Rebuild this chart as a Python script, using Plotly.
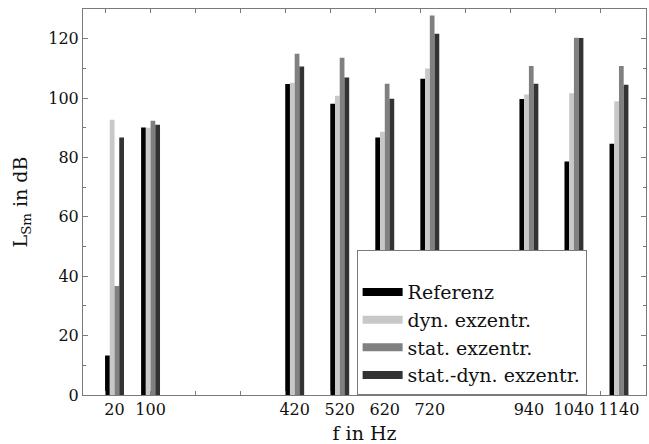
import plotly.graph_objects as go

freqs = [20, 100, 420, 520, 620, 720, 940, 1040, 1140]
freq_labels = ["20", "100", "420", "520", "620", "720", "940", "1040", "1140"]
referenz = [13.3, 90.1, 104.7, 98.1, 86.7, 106.5, 99.7, 78.6, 84.6]
dyn_exz = [92.7, 90.0, 105.2, 100.8, 88.7, 110.0, 101.2, 101.6, 98.9]
stat_exz = [36.7, 92.4, 114.9, 113.6, 104.8, 127.8, 110.8, 120.3, 110.8]
statdyn_exz = [86.7, 91.0, 110.6, 106.9, 99.8, 121.7, 104.8, 120.2, 104.5]

series = [
    ("Referenz", referenz, "#000000"),
    ("dyn. exzentr.", dyn_exz, "#c8c8c8"),
    ("stat. exzentr.", stat_exz, "#808080"),
    ("stat.-dyn. exzentr.", statdyn_exz, "#333333"),
]

FONT = "DejaVu Serif"
fig = go.Figure()
for name, vals, col in series:
    fig.add_trace(go.Bar(x=freqs, y=vals, name=name, marker_color=col,
                         marker_line_width=0, showlegend=False))
for name, vals, col in series:
    fig.add_trace(go.Scatter(x=[None], y=[None], mode="lines", name=name,
                             line=dict(color=col, width=8)))

axis_col = "#7a7a7a"
fig.update_layout(
    width=649, height=444,
    margin=dict(l=83, r=3, t=9, b=49),
    paper_bgcolor="white", plot_bgcolor="white",
    barmode="group", bargap=0.475, bargroupgap=0,
    font=dict(family=FONT, size=17, color="#111111"),
    legend=dict(x=0.486, xanchor="left", y=0, yanchor="bottom",
                bordercolor=axis_col, borderwidth=1, bgcolor="white",
                font=dict(family=FONT, size=19), tracegroupgap=0,
                itemwidth=40,
                title=dict(text=" ", font=dict(size=17))),
    xaxis=dict(range=[-50, 1200], tickmode="array", tickvals=freqs, ticktext=freq_labels,
               ticks="", showgrid=False, zeroline=False, showline=True,
               linecolor=axis_col, linewidth=1, mirror="ticks", automargin=False,
               tickfont=dict(family=FONT, size=16),
               minor=dict(tickmode="linear", tick0=0, dtick=100, ticks="inside",
                          ticklen=4, tickcolor=axis_col, showgrid=False),
               title=dict(text="f in Hz", font=dict(family=FONT, size=19))),
    yaxis=dict(range=[0, 130], tickmode="linear", tick0=0, dtick=20,
               ticks="inside", ticklen=5, tickcolor=axis_col, automargin=False,
               showgrid=False, zeroline=False, showline=True,
               linecolor=axis_col, linewidth=1, mirror="ticks",
               tickfont=dict(family=FONT, size=16),
               minor=dict(tickmode="linear", tick0=0, dtick=10, ticks="inside",
                          ticklen=3, tickcolor=axis_col, showgrid=False),
               title=dict(text="L<sub>Sm</sub> in dB", font=dict(family=FONT, size=19))),
)

fig.write_html("out.html")
